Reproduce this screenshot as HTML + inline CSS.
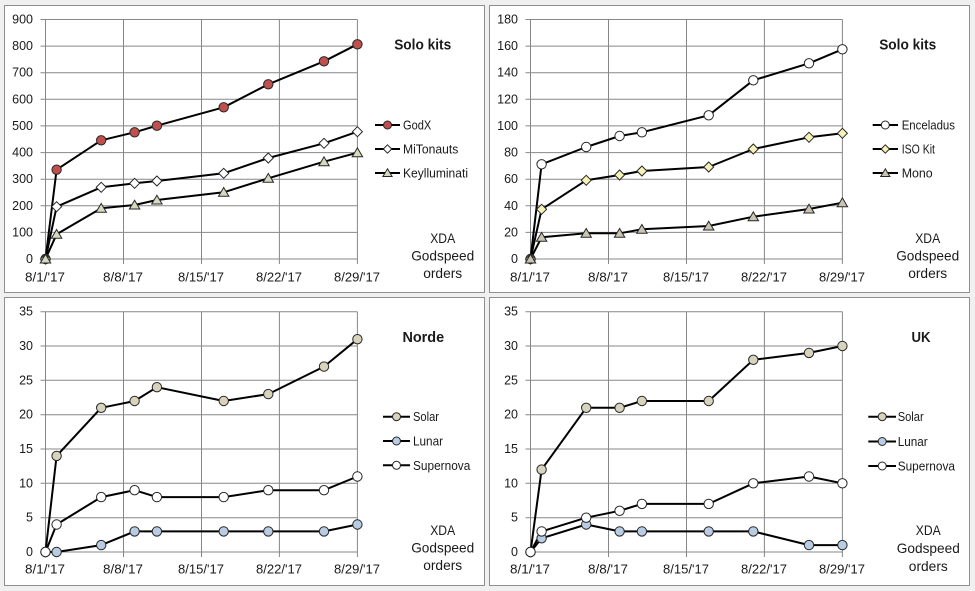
<!DOCTYPE html>
<html><head><meta charset="utf-8"><style>
html,body{margin:0;padding:0;background:#f0f0f0;}
svg{display:block;}
text{font-family:"Liberation Sans",Arial,sans-serif;fill:#1a1a1a;}
.yl{font-size:12.5px;text-anchor:end;dominant-baseline:central;}
.xl{font-size:13px;text-anchor:middle;dominant-baseline:central;}
.lg{font-size:13px;dominant-baseline:central;}
.ti{font-size:15px;font-weight:bold;text-anchor:middle;dominant-baseline:central;}
.xd{font-size:14px;text-anchor:middle;dominant-baseline:central;}
.g{stroke:#878787;stroke-width:1;fill:none;}
.s{stroke:#000;stroke-width:2;fill:none;stroke-linejoin:round;}
.m{stroke:#262626;stroke-width:1;}
</style></head><body>
<svg width="975" height="591" viewBox="0 0 975 591" xmlns="http://www.w3.org/2000/svg">
<defs>
<path id="dia" d="M0,-5L5,0L0,5L-5,0Z"/>
<path id="tri" d="M0,-4.8L5.2,4L-5.2,4Z"/>
<path id="diaS" d="M0,-4.2L4.2,0L0,4.2L-4.2,0Z"/>
<path id="triS" d="M0,-4.2L4.6,3.5L-4.6,3.5Z"/>
</defs>
<rect x="0" y="0" width="975" height="591" fill="#f0f0f0"/>
<!-- panels -->
<rect x="4.5" y="5.5" width="480" height="287" fill="#fff" stroke="#8f8f8f"/>
<rect x="489.5" y="5.5" width="480" height="287" fill="#fff" stroke="#8f8f8f"/>
<rect x="4.5" y="297.5" width="480" height="288" fill="#fff" stroke="#8f8f8f"/>
<rect x="489.5" y="297.5" width="480" height="288" fill="#fff" stroke="#8f8f8f"/>

<!-- ===== TOP LEFT ===== -->
<g class="g">
<path d="M40.5,19.5H357.4M40.5,46.1H357.4M40.5,72.7H357.4M40.5,99.3H357.4M40.5,125.9H357.4M40.5,152.6H357.4M40.5,179.2H357.4M40.5,205.8H357.4M40.5,232.4H357.4M40.5,259H357.4"/>
<path d="M45.5,19.5V264M123.5,19.5V264M201.5,19.5V264M279.4,19.5V264M357.4,19.5V264"/>
</g>
<g>
<text class="yl" x="33" y="19.5">900</text><text class="yl" x="33" y="46.1">800</text><text class="yl" x="33" y="72.7">700</text><text class="yl" x="33" y="99.3">600</text><text class="yl" x="33" y="125.9">500</text><text class="yl" x="33" y="152.6">400</text><text class="yl" x="33" y="179.2">300</text><text class="yl" x="33" y="205.8">200</text><text class="yl" x="33" y="232.4">100</text><text class="yl" x="33" y="259">0</text>
<text class="xl" x="45" y="277" textLength="40" lengthAdjust="spacingAndGlyphs">8/1/'17</text>
<text class="xl" x="123" y="277" textLength="40" lengthAdjust="spacingAndGlyphs">8/8/'17</text>
<text class="xl" x="201" y="277" textLength="46" lengthAdjust="spacingAndGlyphs">8/15/'17</text>
<text class="xl" x="279" y="277" textLength="46" lengthAdjust="spacingAndGlyphs">8/22/'17</text>
<text class="xl" x="357" y="277" textLength="46" lengthAdjust="spacingAndGlyphs">8/29/'17</text>
</g>
<polyline class="s" points="45.5,259 56.6,169.7 101.2,140.3 134.6,132.3 156.9,125.7 223.7,107.3 268.3,84.3 324,61.3 357.4,44.3"/>
<polyline class="s" points="45.5,259 56.6,206.7 101.2,187.3 134.6,183.3 156.9,181 223.7,173.3 268.3,158 324,143.3 357.4,131.7"/>
<polyline class="s" points="45.5,259 56.6,234.3 101.2,208.3 134.6,205 156.9,200 223.7,192.3 268.3,178.3 324,161.7 357.4,152.7"/>
<g class="m" fill="#c0504d">
<circle cx="45.5" cy="259" r="4.7"/><circle cx="56.6" cy="169.7" r="4.7"/><circle cx="101.2" cy="140.3" r="4.7"/><circle cx="134.6" cy="132.3" r="4.7"/><circle cx="156.9" cy="125.7" r="4.7"/><circle cx="223.7" cy="107.3" r="4.7"/><circle cx="268.3" cy="84.3" r="4.7"/><circle cx="324" cy="61.3" r="4.7"/><circle cx="357.4" cy="44.3" r="4.7"/>
</g>
<g class="m" fill="#fff">
<use href="#dia" x="45.5" y="259"/><use href="#dia" x="56.6" y="206.7"/><use href="#dia" x="101.2" y="187.3"/><use href="#dia" x="134.6" y="183.3"/><use href="#dia" x="156.9" y="181"/><use href="#dia" x="223.7" y="173.3"/><use href="#dia" x="268.3" y="158"/><use href="#dia" x="324" y="143.3"/><use href="#dia" x="357.4" y="131.7"/>
</g>
<g class="m" fill="#d6dbbf">
<use href="#tri" x="45.5" y="259"/><use href="#tri" x="56.6" y="234.3"/><use href="#tri" x="101.2" y="208.3"/><use href="#tri" x="134.6" y="205"/><use href="#tri" x="156.9" y="200"/><use href="#tri" x="223.7" y="192.3"/><use href="#tri" x="268.3" y="178.3"/><use href="#tri" x="324" y="161.7"/><use href="#tri" x="357.4" y="152.7"/>
</g>
<text class="ti" x="422.7" y="45" textLength="57" lengthAdjust="spacingAndGlyphs">Solo kits</text>
<path class="s" d="M375,125H400M375,149H400M375,173H400"/>
<circle class="m" fill="#c0504d" cx="387.5" cy="125" r="4"/>
<use class="m" fill="#fff" href="#diaS" x="387.5" y="149"/>
<use class="m" fill="#d6dbbf" href="#triS" x="387.5" y="173"/>
<text class="lg" x="403" y="125" textLength="28.3" lengthAdjust="spacingAndGlyphs">GodX</text>
<text class="lg" x="403" y="149" textLength="55.3" lengthAdjust="spacingAndGlyphs">MiTonauts</text>
<text class="lg" x="403" y="173" textLength="65" lengthAdjust="spacingAndGlyphs">Keylluminati</text>
<text class="xd" x="442.7" y="238" textLength="25" lengthAdjust="spacingAndGlyphs">XDA</text>
<text class="xd" x="442.7" y="255.5" textLength="63" lengthAdjust="spacingAndGlyphs">Godspeed</text>
<text class="xd" x="442.7" y="273" textLength="39" lengthAdjust="spacingAndGlyphs">orders</text>

<!-- ===== TOP RIGHT ===== -->
<g class="g">
<path d="M525.5,19.5H842.4M525.5,46.1H842.4M525.5,72.7H842.4M525.5,99.3H842.4M525.5,125.9H842.4M525.5,152.6H842.4M525.5,179.2H842.4M525.5,205.8H842.4M525.5,232.4H842.4M525.5,259H842.4"/>
<path d="M530.5,19.5V264M608.5,19.5V264M686.5,19.5V264M764.4,19.5V264M842.4,19.5V264"/>
</g>
<g>
<text class="yl" x="518" y="19.5">180</text><text class="yl" x="518" y="46.1">160</text><text class="yl" x="518" y="72.7">140</text><text class="yl" x="518" y="99.3">120</text><text class="yl" x="518" y="125.9">100</text><text class="yl" x="518" y="152.6">80</text><text class="yl" x="518" y="179.2">60</text><text class="yl" x="518" y="205.8">40</text><text class="yl" x="518" y="232.4">20</text><text class="yl" x="518" y="259">0</text>
<text class="xl" x="530" y="277" textLength="40" lengthAdjust="spacingAndGlyphs">8/1/'17</text>
<text class="xl" x="608" y="277" textLength="40" lengthAdjust="spacingAndGlyphs">8/8/'17</text>
<text class="xl" x="686" y="277" textLength="46" lengthAdjust="spacingAndGlyphs">8/15/'17</text>
<text class="xl" x="764" y="277" textLength="46" lengthAdjust="spacingAndGlyphs">8/22/'17</text>
<text class="xl" x="842" y="277" textLength="46" lengthAdjust="spacingAndGlyphs">8/29/'17</text>
</g>
<polyline class="s" points="530.5,259 541.6,164.3 586.2,147 619.6,136 641.9,132.3 708.7,115.3 753.3,80.3 809,63.3 842.4,49.3"/>
<polyline class="s" points="530.5,259 541.6,209.3 586.2,180.3 619.6,175 641.9,171 708.7,167 753.3,149 809,137.3 842.4,133.3"/>
<polyline class="s" points="530.5,259 541.6,237.3 586.2,233.3 619.6,233.3 641.9,229.3 708.7,226 753.3,216.7 809,209 842.4,202.7"/>
<g class="m" fill="#fff">
<circle cx="530.5" cy="259" r="4.7"/><circle cx="541.6" cy="164.3" r="4.7"/><circle cx="586.2" cy="147" r="4.7"/><circle cx="619.6" cy="136" r="4.7"/><circle cx="641.9" cy="132.3" r="4.7"/><circle cx="708.7" cy="115.3" r="4.7"/><circle cx="753.3" cy="80.3" r="4.7"/><circle cx="809" cy="63.3" r="4.7"/><circle cx="842.4" cy="49.3" r="4.7"/>
</g>
<g class="m" fill="#f6f2b8">
<use href="#dia" x="530.5" y="259"/><use href="#dia" x="541.6" y="209.3"/><use href="#dia" x="586.2" y="180.3"/><use href="#dia" x="619.6" y="175"/><use href="#dia" x="641.9" y="171"/><use href="#dia" x="708.7" y="167"/><use href="#dia" x="753.3" y="149"/><use href="#dia" x="809" y="137.3"/><use href="#dia" x="842.4" y="133.3"/>
</g>
<g class="m" fill="#c9c5b2">
<use href="#tri" x="530.5" y="259"/><use href="#tri" x="541.6" y="237.3"/><use href="#tri" x="586.2" y="233.3"/><use href="#tri" x="619.6" y="233.3"/><use href="#tri" x="641.9" y="229.3"/><use href="#tri" x="708.7" y="226"/><use href="#tri" x="753.3" y="216.7"/><use href="#tri" x="809" y="209"/><use href="#tri" x="842.4" y="202.7"/>
</g>
<text class="ti" x="907.7" y="45" textLength="57" lengthAdjust="spacingAndGlyphs">Solo kits</text>
<path class="s" d="M872.7,125H898M872.7,149H898M872.7,173H898"/>
<circle class="m" fill="#fff" cx="885.3" cy="125" r="4"/>
<use class="m" fill="#f6f2b8" href="#diaS" x="885.3" y="149"/>
<use class="m" fill="#c9c5b2" href="#triS" x="885.3" y="173"/>
<text class="lg" x="901.7" y="125" textLength="53.3" lengthAdjust="spacingAndGlyphs">Enceladus</text>
<text class="lg" x="901.7" y="149" textLength="33.3" lengthAdjust="spacingAndGlyphs">ISO Kit</text>
<text class="lg" x="901.7" y="173" textLength="31" lengthAdjust="spacingAndGlyphs">Mono</text>
<text class="xd" x="927.7" y="238" textLength="25" lengthAdjust="spacingAndGlyphs">XDA</text>
<text class="xd" x="927.7" y="255.5" textLength="63" lengthAdjust="spacingAndGlyphs">Godspeed</text>
<text class="xd" x="927.7" y="273" textLength="39" lengthAdjust="spacingAndGlyphs">orders</text>

<!-- ===== BOTTOM LEFT ===== -->
<g class="g">
<path d="M40.5,311.7H357.4M40.5,346H357.4M40.5,380.3H357.4M40.5,414.7H357.4M40.5,449H357.4M40.5,483.3H357.4M40.5,517.7H357.4M40.5,552H357.4"/>
<path d="M45.5,311.7V557M123.5,311.7V557M201.5,311.7V557M279.4,311.7V557M357.4,311.7V557"/>
</g>
<g>
<text class="yl" x="33" y="311.7">35</text><text class="yl" x="33" y="346">30</text><text class="yl" x="33" y="380.3">25</text><text class="yl" x="33" y="414.7">20</text><text class="yl" x="33" y="449">15</text><text class="yl" x="33" y="483.3">10</text><text class="yl" x="33" y="517.7">5</text><text class="yl" x="33" y="552">0</text>
<text class="xl" x="45" y="569" textLength="40" lengthAdjust="spacingAndGlyphs">8/1/'17</text>
<text class="xl" x="123" y="569" textLength="40" lengthAdjust="spacingAndGlyphs">8/8/'17</text>
<text class="xl" x="201" y="569" textLength="46" lengthAdjust="spacingAndGlyphs">8/15/'17</text>
<text class="xl" x="279" y="569" textLength="46" lengthAdjust="spacingAndGlyphs">8/22/'17</text>
<text class="xl" x="357" y="569" textLength="46" lengthAdjust="spacingAndGlyphs">8/29/'17</text>
</g>
<polyline class="s" points="45.5,552 56.6,455.9 101.2,407.8 134.6,401 156.9,387.2 223.7,401 268.3,394.1 324,366.6 357.4,339.2"/>
<polyline class="s" points="45.5,552 56.6,552 101.2,545.1 134.6,531.4 156.9,531.4 223.7,531.4 268.3,531.4 324,531.4 357.4,524.5"/>
<polyline class="s" points="45.5,552 56.6,524.5 101.2,497.1 134.6,490.2 156.9,497.1 223.7,497.1 268.3,490.2 324,490.2 357.4,476.5"/>
<g class="m" fill="#d8d3bd">
<circle cx="45.5" cy="552" r="4.7"/><circle cx="56.6" cy="455.9" r="4.7"/><circle cx="101.2" cy="407.8" r="4.7"/><circle cx="134.6" cy="401" r="4.7"/><circle cx="156.9" cy="387.2" r="4.7"/><circle cx="223.7" cy="401" r="4.7"/><circle cx="268.3" cy="394.1" r="4.7"/><circle cx="324" cy="366.6" r="4.7"/><circle cx="357.4" cy="339.2" r="4.7"/>
</g>
<g class="m" fill="#b8cce4">
<circle cx="45.5" cy="552" r="4.7"/><circle cx="56.6" cy="552" r="4.7"/><circle cx="101.2" cy="545.1" r="4.7"/><circle cx="134.6" cy="531.4" r="4.7"/><circle cx="156.9" cy="531.4" r="4.7"/><circle cx="223.7" cy="531.4" r="4.7"/><circle cx="268.3" cy="531.4" r="4.7"/><circle cx="324" cy="531.4" r="4.7"/><circle cx="357.4" cy="524.5" r="4.7"/>
</g>
<g class="m" fill="#fff">
<circle cx="45.5" cy="552" r="4.7"/><circle cx="56.6" cy="524.5" r="4.7"/><circle cx="101.2" cy="497.1" r="4.7"/><circle cx="134.6" cy="490.2" r="4.7"/><circle cx="156.9" cy="497.1" r="4.7"/><circle cx="223.7" cy="497.1" r="4.7"/><circle cx="268.3" cy="490.2" r="4.7"/><circle cx="324" cy="490.2" r="4.7"/><circle cx="357.4" cy="476.5" r="4.7"/>
</g>
<text class="ti" x="423.3" y="337.3" textLength="41.7" lengthAdjust="spacingAndGlyphs">Norde</text>
<path class="s" d="M383,416.7H410M383,441H410M383,465.3H410"/>
<circle class="m" fill="#d8d3bd" cx="396.5" cy="416.7" r="4"/>
<circle class="m" fill="#b8cce4" cx="396.5" cy="441" r="4"/>
<circle class="m" fill="#fff" cx="396.5" cy="465.3" r="4"/>
<text class="lg" x="413" y="416.7" textLength="26" lengthAdjust="spacingAndGlyphs">Solar</text>
<text class="lg" x="413" y="441" textLength="30" lengthAdjust="spacingAndGlyphs">Lunar</text>
<text class="lg" x="413" y="465.3" textLength="57.3" lengthAdjust="spacingAndGlyphs">Supernova</text>
<text class="xd" x="442.7" y="530" textLength="25" lengthAdjust="spacingAndGlyphs">XDA</text>
<text class="xd" x="442.7" y="547.5" textLength="63" lengthAdjust="spacingAndGlyphs">Godspeed</text>
<text class="xd" x="442.7" y="565" textLength="39" lengthAdjust="spacingAndGlyphs">orders</text>

<!-- ===== BOTTOM RIGHT ===== -->
<g class="g">
<path d="M525.5,311.7H842.4M525.5,346H842.4M525.5,380.3H842.4M525.5,414.7H842.4M525.5,449H842.4M525.5,483.3H842.4M525.5,517.7H842.4M525.5,552H842.4"/>
<path d="M530.5,311.7V557M608.5,311.7V557M686.5,311.7V557M764.4,311.7V557M842.4,311.7V557"/>
</g>
<g>
<text class="yl" x="518" y="311.7">35</text><text class="yl" x="518" y="346">30</text><text class="yl" x="518" y="380.3">25</text><text class="yl" x="518" y="414.7">20</text><text class="yl" x="518" y="449">15</text><text class="yl" x="518" y="483.3">10</text><text class="yl" x="518" y="517.7">5</text><text class="yl" x="518" y="552">0</text>
<text class="xl" x="530" y="569" textLength="40" lengthAdjust="spacingAndGlyphs">8/1/'17</text>
<text class="xl" x="608" y="569" textLength="40" lengthAdjust="spacingAndGlyphs">8/8/'17</text>
<text class="xl" x="686" y="569" textLength="46" lengthAdjust="spacingAndGlyphs">8/15/'17</text>
<text class="xl" x="764" y="569" textLength="46" lengthAdjust="spacingAndGlyphs">8/22/'17</text>
<text class="xl" x="842" y="569" textLength="46" lengthAdjust="spacingAndGlyphs">8/29/'17</text>
</g>
<polyline class="s" points="530.5,552 541.6,469.6 586.2,407.8 619.6,407.8 641.9,401 708.7,401 753.3,359.8 809,352.9 842.4,346"/>
<polyline class="s" points="530.5,552 541.6,538.3 586.2,524.5 619.6,531.4 641.9,531.4 708.7,531.4 753.3,531.4 809,545.1 842.4,545.1"/>
<polyline class="s" points="530.5,552 541.6,531.4 586.2,517.7 619.6,510.8 641.9,503.9 708.7,503.9 753.3,483.3 809,476.5 842.4,483.3"/>
<g class="m" fill="#d8d3bd">
<circle cx="530.5" cy="552" r="4.7"/><circle cx="541.6" cy="469.6" r="4.7"/><circle cx="586.2" cy="407.8" r="4.7"/><circle cx="619.6" cy="407.8" r="4.7"/><circle cx="641.9" cy="401" r="4.7"/><circle cx="708.7" cy="401" r="4.7"/><circle cx="753.3" cy="359.8" r="4.7"/><circle cx="809" cy="352.9" r="4.7"/><circle cx="842.4" cy="346" r="4.7"/>
</g>
<g class="m" fill="#b8cce4">
<circle cx="530.5" cy="552" r="4.7"/><circle cx="541.6" cy="538.3" r="4.7"/><circle cx="586.2" cy="524.5" r="4.7"/><circle cx="619.6" cy="531.4" r="4.7"/><circle cx="641.9" cy="531.4" r="4.7"/><circle cx="708.7" cy="531.4" r="4.7"/><circle cx="753.3" cy="531.4" r="4.7"/><circle cx="809" cy="545.1" r="4.7"/><circle cx="842.4" cy="545.1" r="4.7"/>
</g>
<g class="m" fill="#fff">
<circle cx="530.5" cy="552" r="4.7"/><circle cx="541.6" cy="531.4" r="4.7"/><circle cx="586.2" cy="517.7" r="4.7"/><circle cx="619.6" cy="510.8" r="4.7"/><circle cx="641.9" cy="503.9" r="4.7"/><circle cx="708.7" cy="503.9" r="4.7"/><circle cx="753.3" cy="483.3" r="4.7"/><circle cx="809" cy="476.5" r="4.7"/><circle cx="842.4" cy="483.3" r="4.7"/>
</g>
<text class="ti" x="921" y="337.3" textLength="19" lengthAdjust="spacingAndGlyphs">UK</text>
<path class="s" d="M868.3,416.7H896M868.3,441.5H896M868.3,466H896"/>
<circle class="m" fill="#d8d3bd" cx="882.2" cy="416.7" r="4"/>
<circle class="m" fill="#b8cce4" cx="882.2" cy="441.5" r="4"/>
<circle class="m" fill="#fff" cx="882.2" cy="466" r="4"/>
<text class="lg" x="897.7" y="416.7" textLength="26" lengthAdjust="spacingAndGlyphs">Solar</text>
<text class="lg" x="897.7" y="441.5" textLength="30" lengthAdjust="spacingAndGlyphs">Lunar</text>
<text class="lg" x="897.7" y="466" textLength="57.3" lengthAdjust="spacingAndGlyphs">Supernova</text>
<text class="xd" x="928.3" y="530" textLength="25" lengthAdjust="spacingAndGlyphs">XDA</text>
<text class="xd" x="928.3" y="548" textLength="63" lengthAdjust="spacingAndGlyphs">Godspeed</text>
<text class="xd" x="928.3" y="566" textLength="39" lengthAdjust="spacingAndGlyphs">orders</text>
</svg>
</body></html>
